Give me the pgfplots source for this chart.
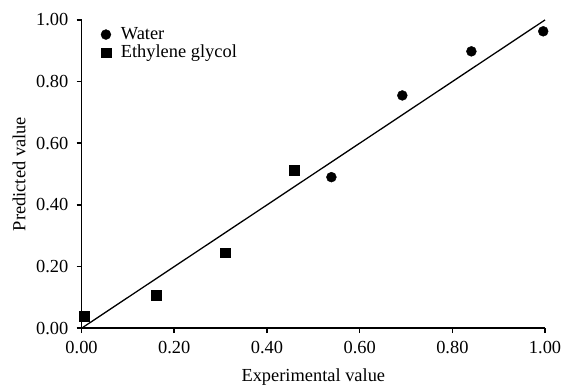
\documentclass[border=0pt]{standalone}
\usepackage{fontspec}
\setmainfont{Liberation Serif}
\usepackage{pgfplots}
\pgfplotsset{compat=1.18}
\begin{document}
\fontsize{18.5}{21.5}\selectfont
\begin{tikzpicture}
\begin{axis}[
  name=ax,
  scale only axis,
  width=466pt, height=310pt,
  xmin=0, xmax=1, ymin=0, ymax=1,
  axis x line*=bottom, axis y line*=left,
  axis line style={line width=1.6pt, -},
  xtick={0,0.2,0.4,0.6,0.8,1.0},
  ytick={0,0.2,0.4,0.6,0.8,1.0},
  xtick pos=bottom, ytick pos=left,
  tick align=outside,
  major tick length=5pt,
  major tick style={line width=1.6pt, draw=black},
  /pgf/number format/assume math mode=true,
  /pgf/number format/fixed,
  /pgf/number format/fixed zerofill,
  /pgf/number format/precision=2,
  ticklabel style={font=\fontsize{18.5}{21.5}\selectfont},
  xticklabel style={yshift=-2pt},
  yticklabel style={xshift=-2pt},
  xlabel={Experimental value},
  ylabel={Predicted value},
  label style={font=\fontsize{18.5}{21.5}\selectfont},
  xlabel style={yshift=-2pt},
  ylabel style={yshift=-2pt},
  clip=false,
  legend style={at={(0.035,0.99)}, anchor=north west, draw=none, fill=none,
    font=\fontsize{18.5}{21.5}\selectfont, row sep=-1pt,
    /tikz/every odd column/.append style={column sep=8pt}},
  legend cell align=left,
]
\coordinate (O) at (rel axis cs:0,0);
\addplot[only marks, mark=*, mark size=5pt, black] coordinates {
  (0.539,0.490) (0.692,0.755) (0.841,0.898) (0.996,0.963)
};
\addlegendentry{Water}
\addplot[only marks, mark=square*, mark size=5pt, black] coordinates {
  (0.006,0.038) (0.161,0.106) (0.309,0.245) (0.459,0.513)
};
\addlegendentry{Ethylene glycol}
\addplot[black, line width=1.3pt, forget plot] coordinates {(0,0) (1,1)};
\end{axis}
\pgfresetboundingbox
\path[use as bounding box] ([shift={(-82pt,-59pt)}]O) rectangle ([shift={(484pt,330pt)}]O);
\end{tikzpicture}
\end{document}
